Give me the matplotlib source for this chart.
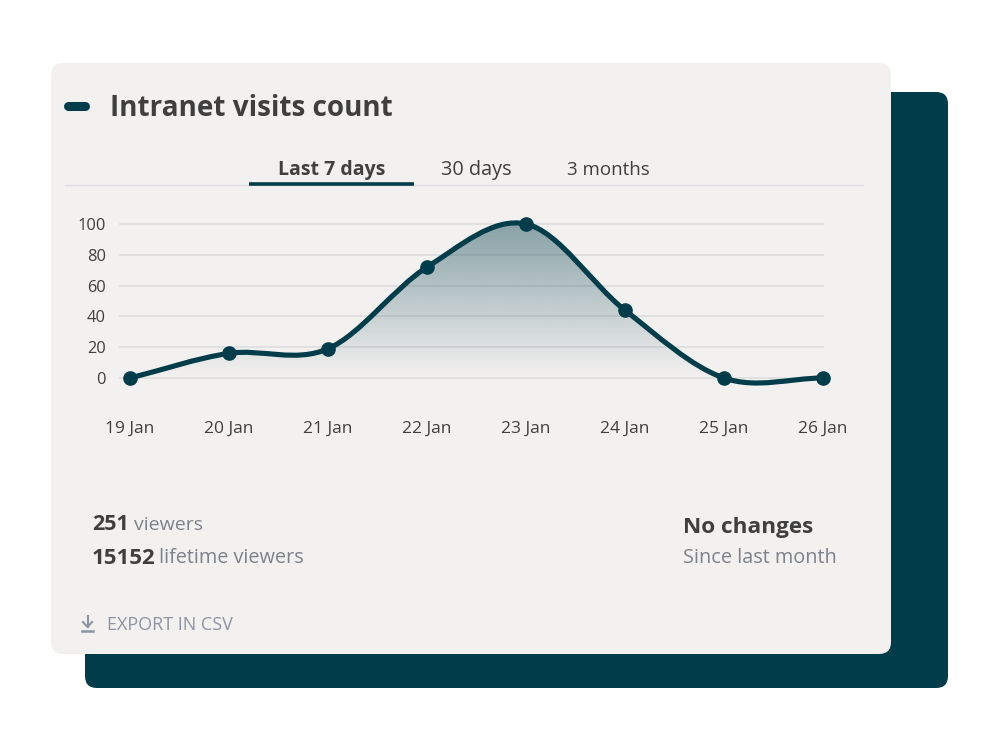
import matplotlib
matplotlib.use('Agg')
import matplotlib.pyplot as plt
import numpy as np
from matplotlib.patches import FancyBboxPatch, PathPatch
from matplotlib.path import Path
from matplotlib.colors import LinearSegmentedColormap

days = ['19 Jan', '20 Jan', '21 Jan', '22 Jan', '23 Jan', '24 Jan', '25 Jan', '26 Jan']
visits = [0, 16, 19, 72, 100, 44, 0, 0]
y_ticks = [0, 20, 40, 60, 80, 100]
tabs = ['Last 7 days', '30 days', '3 months']

DARK = '#003c4a'
CARD = '#f3f1f0'
TEXT = '#3f3f3f'
GREY = '#7d8289'
FONT = 'Open Sans'

plt.rcParams['font.family'] = FONT


def smooth_verts(ys):
    # catmull-rom tangents turned into bezier segments
    n = len(ys)
    tang = [0.0] * n
    for i in range(n):
        lo = max(i - 1, 0)
        hi = min(i + 1, n - 1)
        tang[i] = (ys[hi] - ys[lo]) / (hi - lo)
    verts = [(0, ys[0])]
    for i in range(n - 1):
        verts.append((i + 1 / 3, ys[i] + tang[i] / 3))
        verts.append((i + 2 / 3, ys[i + 1] - tang[i + 1] / 3))
        verts.append((i + 1, ys[i + 1]))
    return verts


fig = plt.figure(figsize=(10, 7.5), dpi=100, facecolor='white')

# background layer in pixel coordinates
bg = fig.add_axes([0, 0, 1, 1])
bg.set_xlim(0, 1000)
bg.set_ylim(750, 0)
bg.axis('off')


def card(x0, y0, x1, y1, color, r=12):
    bg.add_patch(FancyBboxPatch((x0 + r, y0 + r), x1 - x0 - 2 * r, y1 - y0 - 2 * r,
                                boxstyle=f'round,pad={r},rounding_size={r}',
                                fc=color, ec='none'))


card(85, 92, 948, 688, DARK)
card(51, 63, 891, 654, CARD)

# header
bg.plot([68, 85], [106, 106], color=DARK, lw=6.5, solid_capstyle='round')
bg.text(110, 109, 'Intranet visits count', fontsize=20.1, fontweight='bold', color=TEXT,
        va='center', ha='left')

# tabs
bg.plot([65, 863], [185, 185], color='#dcdce6', lw=1)
bg.plot([249, 414], [184, 184], color=DARK, lw=2.6, solid_capstyle='butt')
bg.text(332, 170, tabs[0], fontsize=14, fontweight='bold', color=TEXT, ha='center', va='center')
bg.text(476, 170, tabs[1], fontsize=14.3, color=TEXT, ha='center', va='center')
bg.text(608, 170, tabs[2], fontsize=13.5, color=TEXT, ha='center', va='center')

# stats
bg.text(92, 525, '251', fontsize=15.5, fontweight='bold', color=TEXT, va='center')
bg.text(134, 525, 'viewers', fontsize=14, color=GREY, va='center')
bg.text(92, 558, '15152', fontsize=16, fontweight='bold', color=TEXT, va='center')
bg.text(159, 558, 'lifetime viewers', fontsize=14.3, color=GREY, va='center')
bg.text(683, 527, 'No changes', fontsize=16.2, fontweight='bold', color=TEXT, va='center')
bg.text(683, 558, 'Since last month', fontsize=14.3, color=GREY, va='center')

# export link with download icon
icon = '#8d93a0'
bg.plot([87.5, 87.5], [616, 627], color=icon, lw=1.5)
bg.plot([83, 87.5, 92], [622, 627, 622], color=icon, lw=1.5)
bg.plot([82, 93], [631, 631], color=icon, lw=1.8)
bg.text(107, 625, 'EXPORT IN CSV', fontsize=13, color=icon, va='center')

# chart: 0 sits at y=378px, 100 at y=224px, first day at x=130px, last at x=823px
ax = fig.add_axes([120 / 1000, (750 - 378) / 750, 703 / 1000, 154 / 750])
ax.patch.set_alpha(0)
ax.set_xlim(-10 / 99, 7)
ax.set_ylim(0, 100)
for s in ax.spines.values():
    s.set_visible(False)
x = np.arange(len(days))
ax.set_xticks(x)
ax.set_xticklabels(days, fontsize=12.5, color=TEXT)
ax.set_yticks(y_ticks)
ax.set_yticklabels([str(v) for v in y_ticks], fontsize=11.8, color=TEXT)
ax.tick_params(axis='x', length=0, pad=31)
ax.tick_params(axis='y', length=0, pad=10)
ax.grid(axis='y', color='#dedddd', lw=1.2, clip_on=False)
ax.grid(axis='x', visible=False)
ax.set_axisbelow(True)

verts = smooth_verts(visits)
codes = [Path.MOVETO] + [Path.CURVE4] * (len(verts) - 1)
line_path = Path(verts, codes)
area_path = Path(verts + [(7, 0), (0, 0), (0, 0)],
                 codes + [Path.LINETO, Path.LINETO, Path.CLOSEPOLY])

# gradient under the curve
cmap = LinearSegmentedColormap.from_list('fade', [(0, 60 / 255, 74 / 255, 0.0),
                                                  (0, 60 / 255, 74 / 255, 0.44)])
grad = ax.imshow(np.linspace(1, 0, 256).reshape(-1, 1), extent=(0, 7, 0, 100), aspect='auto',
                 cmap=cmap, vmin=0, vmax=1, zorder=2)
grad.set_clip_path(PathPatch(area_path, transform=ax.transData))
ax.set_xlim(-10 / 99, 7)
ax.set_ylim(0, 100)

ax.add_patch(PathPatch(line_path, fc='none', ec=DARK, lw=3.7, capstyle='round', zorder=3,
                       clip_on=False))
ax.plot(x, visits, 'o', color=DARK, ms=9.5, zorder=4, clip_on=False)

fig.savefig('out.png', dpi=100, facecolor='white')
